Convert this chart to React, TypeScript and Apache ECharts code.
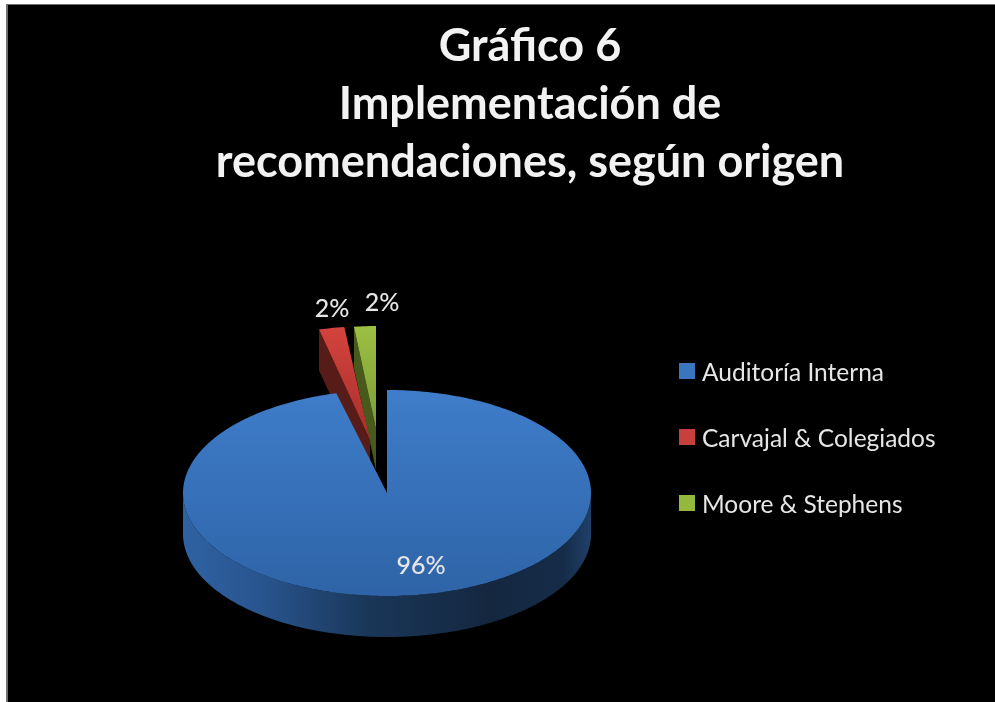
import React, { useEffect, useRef } from "react";
import * as echarts from "echarts";

const titleLines = ["Gráfico 6", "Implementación de", "recomendaciones, según origen"];
const categories = ["Auditoría Interna", "Carvajal & Colegiados", "Moore & Stephens"];
const values = [96, 2, 2];

const FONT = "Lato, Carlito, 'Open Sans', sans-serif";
const TOTAL = values.reduce((a, b) => a + b, 0);
const starts = values.map((_, i) => values.slice(0, i).reduce((a, b) => a + b, 0));

const looks = [
  { cx: 387, cy: 493, rx: 204, ry: 103, depth: 41, labelX: 421, labelY: 564, z: 5,
    top: ["#3f7dca", "#2e64a7"], wall: "#5a1a18", legend: "#3a76c0" },
  { cx: 370, cy: 440, rx: 205, ry: 114, depth: 41, labelX: 332, labelY: 307, z: 3,
    top: ["#d4433d", "#a82f2c"], wall: "#571b18", legend: "#c8403c" },
  { cx: 376, cy: 429, rx: 176, ry: 103, depth: 41, labelX: 382, labelY: 301, z: 2,
    top: ["#9cbf42", "#7c9c34"], wall: "#47591b", legend: "#94b83e" },
];

const arc = (l: any, a0: number, a1: number, dy = 0) => {
  const n = Math.max(2, Math.ceil(Math.abs(a1 - a0) / 0.02));
  const pts: number[][] = [];
  for (let i = 0; i <= n; i++) {
    const a = a0 + ((a1 - a0) * i) / n;
    pts.push([l.cx + l.rx * Math.sin(a), l.cy - l.ry * Math.cos(a) + dy]);
  }
  return pts;
};

const vGrad = (c: string[]) =>
  new echarts.graphic.LinearGradient(0, 0, 0, 1, [
    { offset: 0, color: c[0] },
    { offset: 1, color: c[1] },
  ]);

const blueWall = () =>
  new echarts.graphic.LinearGradient(0, 0, 1, 0, [
    { offset: 0, color: "#2f62a3" },
    { offset: 0.2, color: "#28548d" },
    { offset: 0.45, color: "#1a3759" },
    { offset: 0.75, color: "#14273f" },
    { offset: 0.93, color: "#152b47" },
    { offset: 1, color: "#1f4069" },
  ]);

const makeRender = (i: number) => (_p: any, api: any) => {
  const l = looks[i];
  const v = api.value(0);
  const a0 = (starts[i] / TOTAL) * 2 * Math.PI;
  const a1 = a0 + (v / TOTAL) * 2 * Math.PI;
  const children: any[] = [];
  const apex = [l.cx, l.cy];
  if (i === 0) {
    const front = arc(l, Math.PI / 2, (3 * Math.PI) / 2);
    const back = arc(l, Math.PI / 2, (3 * Math.PI) / 2, l.depth).reverse();
    children.push({
      type: "polygon",
      shape: { points: [...front, ...back] },
      style: { fill: blueWall() },
    });
  } else {
    const p = arc(l, a0, a0)[0];
    children.push({
      type: "polygon",
      shape: {
        points: [p, [p[0], p[1] + l.depth], [apex[0], apex[1] + l.depth], apex],
      },
      style: { fill: l.wall },
    });
  }
  children.push({
    type: "polygon",
    shape: { points: [apex, ...arc(l, a0, a1)] },
    style: { fill: vGrad(l.top) },
  });
  children.push({
    type: "text",
    x: l.labelX,
    y: l.labelY,
    style: {
      text: `${v}%`,
      fill: "#e6e6e6",
      font: `500 25px ${FONT}`,
      align: "center",
      verticalAlign: "middle",
    },
  });
  return { type: "group", children };
};

export default function App() {
  const ref = useRef<HTMLDivElement>(null);
  useEffect(() => {
    const chart = echarts.init(ref.current!, null, { renderer: "svg" });
    chart.setOption({
      animation: false,
      backgroundColor: "#ffffff",
      title: {
        text: titleLines.join("\n"),
        left: 525,
        top: 10,
        textAlign: "center",
        textStyle: {
          color: "#f2f2f2",
          fontFamily: FONT,
          fontWeight: 700,
          fontSize: 45,
          lineHeight: 58,
        },
      },
      legend: {
        orient: "vertical",
        left: 674,
        top: 352,
        icon: "rect",
        itemWidth: 16,
        itemHeight: 16,
        itemGap: 38,
        data: categories,
        textStyle: {
          color: "#e6e6e6",
          fontFamily: FONT,
          fontSize: 24.5,
          lineHeight: 28,
          padding: [0, 0, 0, 2],
        },
      },
      graphic: [
        { type: "rect", z: -10, shape: { x: 6, y: 4, width: 989, height: 698 }, style: { fill: "#6f6f6f" } },
        { type: "rect", z: -9, shape: { x: 8, y: 5, width: 987, height: 697 }, style: { fill: "#000000" } },
      ],
      series: categories.map((name, i) => ({
        type: "custom",
        name,
        coordinateSystem: "none",
        z: looks[i].z,
        silent: true,
        itemStyle: { color: looks[i].legend },
        renderItem: makeRender(i),
        data: [[values[i]]],
      })),
    });
    return () => chart.dispose();
  }, []);
  return (
    <div
      ref={ref}
      style={{ position: "fixed", left: 0, top: 0, width: 995, height: 702, filter: "blur(0.6px)" }}
    />
  );
}
